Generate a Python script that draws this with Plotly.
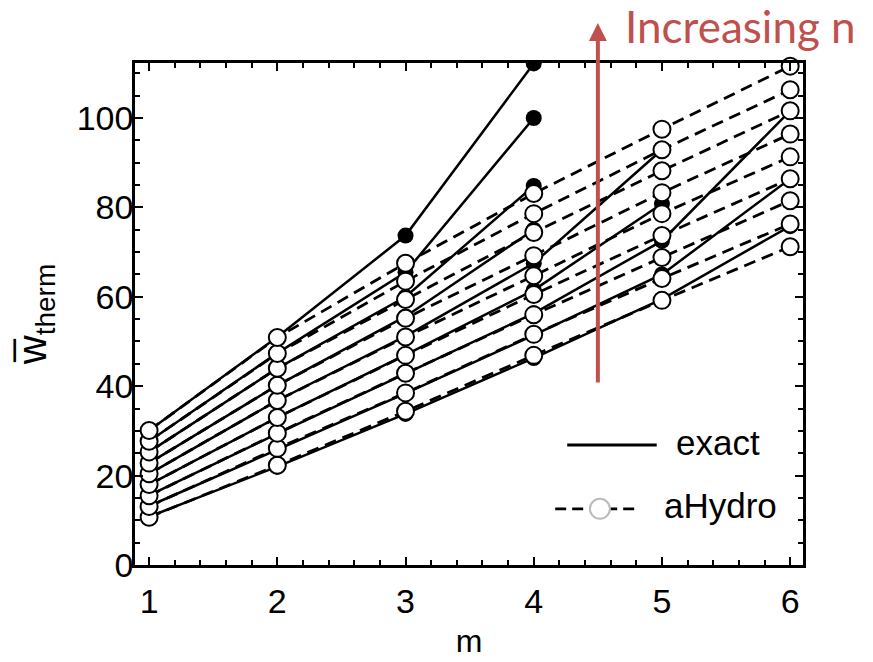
import plotly.graph_objects as go

m_values = [1, 2, 3, 4, 5, 6]

# aHydro values, one list per n (increasing n), at m = 1..6
ahydro_n1 = [10.7, 22.3, 34.4, 46.9, 59.2, 71.2]
ahydro_n2 = [13.1, 26.1, 38.5, 51.6, 64.1, 76.3]
ahydro_n3 = [15.5, 29.5, 42.9, 56.0, 68.8, 81.5]
ahydro_n4 = [18.0, 33.0, 46.9, 60.5, 73.7, 86.4]
ahydro_n5 = [20.4, 36.8, 51.0, 64.7, 78.6, 91.3]
ahydro_n6 = [22.8, 40.2, 55.2, 69.2, 83.3, 96.4]
ahydro_n7 = [25.3, 44.0, 59.4, 74.4, 88.2, 101.6]
ahydro_n8 = [27.7, 47.3, 63.5, 78.6, 92.9, 106.3]
ahydro_n9 = [30.1, 50.9, 67.5, 83.1, 97.5, 111.6]

# exact values, one list per n (None = not shown)
exact_n1 = [10.8, 22.0, 33.8, 46.3, 59.5, 75.8]
exact_n2 = [13.2, 25.8, 38.4, 51.4, 65.0, 86.4]
exact_n3 = [15.6, 29.4, 42.8, 56.3, 72.5, 101.6]
exact_n4 = [18.0, 33.0, 47.0, 61.5, 80.8, None]
exact_n5 = [20.4, 36.8, 51.2, 67.5, 92.9, None]
exact_n6 = [22.8, 40.2, 55.6, 75.0, None, None]
exact_n7 = [25.3, 44.0, 60.0, 84.8, None, None]
exact_n8 = [27.7, 47.4, 65.5, 100.0, None, None]
exact_n9 = [30.1, 51.0, 73.7, 112.2, None, None]

ahydro_series = [ahydro_n1, ahydro_n2, ahydro_n3, ahydro_n4, ahydro_n5,
                 ahydro_n6, ahydro_n7, ahydro_n8, ahydro_n9]
exact_series = [exact_n1, exact_n2, exact_n3, exact_n4, exact_n5,
                exact_n6, exact_n7, exact_n8, exact_n9]

x_ticks = [1, 2, 3, 4, 5, 6]
y_ticks = [0, 20, 40, 60, 80, 100]

FONT = "Liberation Sans, Arial, sans-serif"
RED = "#C0504D"

fig = go.Figure()

# exact: solid lines with filled markers (drawn first, underneath)
for ys in exact_series:
    fig.add_trace(go.Scatter(
        x=m_values, y=ys, mode="lines+markers",
        line=dict(color="black", width=2.5),
        marker=dict(symbol="circle", size=16, color="black"),
        showlegend=False, cliponaxis=True, hoverinfo="skip"))

# aHydro: dashed lines
for ys in ahydro_series:
    fig.add_trace(go.Scatter(
        x=m_values, y=ys, mode="lines",
        line=dict(color="black", width=2.8, dash="12px,7px"),
        showlegend=False, hoverinfo="skip"))

# aHydro: open circles on top
for ys in ahydro_series:
    fig.add_trace(go.Scatter(
        x=m_values, y=ys, mode="markers",
        marker=dict(symbol="circle", size=17, color="white",
                    line=dict(color="black", width=2)),
        showlegend=False, cliponaxis=False, hoverinfo="skip"))

axis_common = dict(
    showline=True, linecolor="black", linewidth=2.5, mirror="ticks",
    ticks="inside", ticklen=8, tickwidth=2, tickcolor="black",
    showgrid=False, zeroline=False, automargin=False,
    tickfont=dict(family=FONT, size=34, color="black"),
)

fig.update_xaxes(
    range=[0.89, 6.1], tickvals=x_ticks, ticktext=[str(v) for v in x_ticks],
    minor=dict(dtick=0.2, ticks="inside", ticklen=5, tickwidth=1.5, tickcolor="black"),
    title=dict(text="m", font=dict(family=FONT, size=32, color="black"), standoff=12),
    ticklabelstandoff=4,
    **axis_common)
fig.update_yaxes(
    range=[0, 112.3], tickvals=y_ticks, ticktext=[str(v) for v in y_ticks],
    minor=dict(dtick=5, ticks="inside", ticklen=5, tickwidth=1.5, tickcolor="black"),
    title=dict(text="w\u0305<sub>therm</sub>",
               font=dict(family=FONT, size=40, color="black"), standoff=18),
    ticklabelstandoff=-8,
    **axis_common)

# legend (drawn as a key in paper coordinates)
shapes = [
    dict(type="line", xref="paper", yref="paper", x0=0.647, x1=0.781,
         y0=0.239, y1=0.239, line=dict(color="black", width=2.8)),
    dict(type="line", xref="paper", yref="paper", x0=0.629, x1=0.756,
         y0=0.112, y1=0.112, line=dict(color="black", width=2.8, dash="11px,6px")),
    dict(type="circle", xref="paper", yref="paper", xsizemode="pixel",
         ysizemode="pixel", xanchor=0.696, yanchor=0.112,
         x0=-10, x1=10, y0=-10, y1=10,
         fillcolor="white", line=dict(color="#BBBBBB", width=2)),
]

annotations = [
    dict(xref="paper", yref="paper", x=0.807, y=0.245, text="exact",
         showarrow=False, xanchor="left", yanchor="middle",
         font=dict(family=FONT, size=35, color="black")),
    dict(xref="paper", yref="paper", x=0.789, y=0.118, text="aHydro",
         showarrow=False, xanchor="left", yanchor="middle",
         font=dict(family=FONT, size=35, color="black")),
    # "Increasing n" arrow (tail offset given in pixels)
    dict(xref="x", yref="paper", x=4.5, y=1.0797, axref="pixel", ayref="pixel",
         ax=0, ay=361, text="", showarrow=True, arrowhead=2,
         arrowsize=0.9, arrowwidth=4, arrowcolor=RED, standoff=0, startstandoff=0),
    dict(xref="paper", yref="paper", x=1.083, y=1.074, text="Increasing n",
         showarrow=False, xanchor="right", yanchor="middle",
         font=dict(family="Lato, Open Sans, sans-serif", size=44, color=RED)),
]

fig.update_layout(
    width=865, height=654,
    margin=dict(l=127, r=70, t=55, b=97, autoexpand=False),
    plot_bgcolor="white", paper_bgcolor="white",
    shapes=shapes, annotations=annotations,
    showlegend=False,
)

fig.write_html("out.html")
